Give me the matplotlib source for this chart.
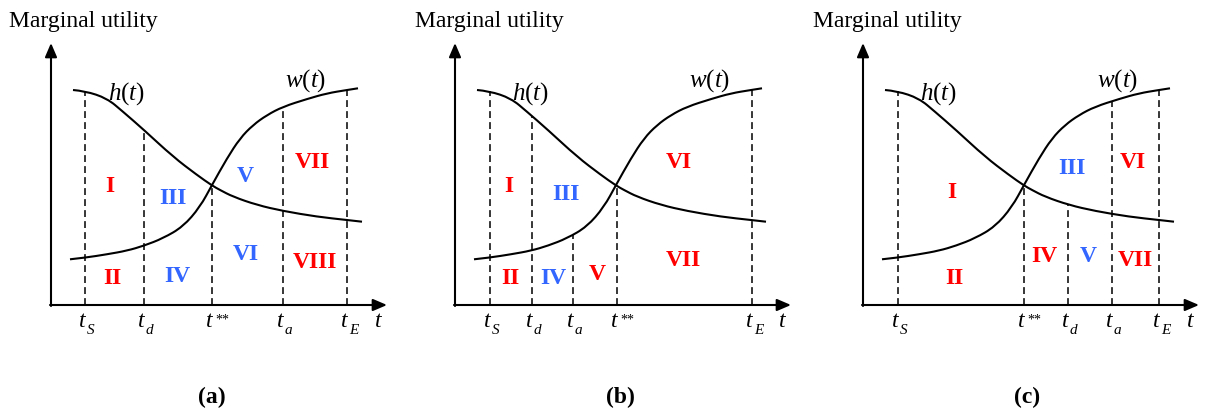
import numpy as np
import matplotlib
matplotlib.use("Agg")
import matplotlib.pyplot as plt
from matplotlib.path import Path
from matplotlib.patches import PathPatch

plt.rcParams['font.family'] = ['Liberation Serif', 'DejaVu Serif']
plt.rcParams['mathtext.fontset'] = 'custom'
plt.rcParams['mathtext.rm'] = 'Liberation Serif'
plt.rcParams['mathtext.it'] = 'Liberation Serif:italic'
plt.rcParams['mathtext.bf'] = 'Liberation Serif:bold'

RED = '#ff0000'
BLUE = '#3366ff'

# marginal utility curves, shared by all three panels (t, utility)
h_t = [22, 34, 56, 72, 93, 122, 146, 161, 169, 182, 206, 232, 266, 296, 311]
h_u = [215, 214, 206.7, 193.3, 175, 148.3, 130, 119.5, 115, 108.3, 100, 94, 88.3, 85, 83.3]
w_t = [19, 34, 56, 76, 93, 112, 132, 149, 161, 176, 189, 202, 216, 232, 256, 276, 296, 307]
w_u = [45.7, 47.3, 50.7, 54.3, 59.3, 66.7, 78.3, 98, 120, 146.7, 166.7, 180, 190, 198.3, 206, 211.7, 215, 216.7]

# time marks per panel: subscript / superscript, position, curve the dashed line rises to
marks_a = [('S', 34, 'h'), ('d', 93, 'h'), ('**', 161, 'x'), ('a', 232, 'w'), ('E', 296, 'w')]
marks_b = [('S', 35, 'h'), ('d', 77, 'h'), ('a', 118, 'w'), ('**', 162, 'x'), ('E', 297, 'w')]
marks_c = [('S', 35, 'h'), ('**', 161, 'x'), ('d', 205, 'h'), ('a', 249, 'w'), ('E', 296, 'w')]

# region labels: numeral, t, utility, colour
regions_a = [('I', 59, 119, RED), ('II', 61, 27, RED), ('III', 122, 107, BLUE), ('IV', 126, 29, BLUE),
             ('V', 194, 129, BLUE), ('VI', 195, 50, BLUE), ('VII', 261, 142, RED), ('VIII', 264, 43, RED)]
regions_b = [('I', 54, 119, RED), ('II', 55, 27, RED), ('III', 111, 110, BLUE), ('IV', 98, 27, BLUE),
             ('V', 142, 30, RED), ('VI', 224, 142, RED), ('VII', 228, 44, RED)]
regions_c = [('I', 89, 112, RED), ('II', 91, 27, RED), ('III', 209, 137, BLUE), ('IV', 181, 49, RED),
             ('V', 225, 49, BLUE), ('VI', 270, 142, RED), ('VII', 272, 44, RED)]

panels = [
    dict(origin=51, ylab_x=-42, tag='(a)', tag_x=161, marks=marks_a, regions=regions_a),
    dict(origin=455, ylab_x=-40, tag='(b)', tag_x=165, marks=marks_b, regions=regions_b),
    dict(origin=863, ylab_x=-50, tag='(c)', tag_x=164, marks=marks_c, regions=regions_c),
]


def smooth_path(xs, ys):
    # quadratic bezier through segment midpoints, points act as control points
    pts = np.column_stack([xs, ys]).astype(float)
    verts = [pts[0]]
    codes = [Path.MOVETO]
    for i in range(1, len(pts) - 1):
        end = pts[i + 1] if i == len(pts) - 2 else (pts[i] + pts[i + 1]) / 2
        verts += [pts[i], end]
        codes += [Path.CURVE3, Path.CURVE3]
    return Path(verts, codes)


W, H = 1205, 419
fig = plt.figure(figsize=(W / 100, H / 100), dpi=100)
fig.patch.set_facecolor('white')

XMIN, XMAX = -51, 342
YMIN, YMAX = -114, 305
BASE = -22  # baseline of the time labels

for p in panels:
    left = p['origin'] + XMIN
    ax = fig.add_axes([left / W, 0, (XMAX - XMIN) / W, 1])
    ax.set_xlim(XMIN, XMAX)
    ax.set_ylim(YMIN, YMAX)
    ax.axis('off')

    # axes with arrow heads
    arrow = dict(arrowstyle='-|>,head_length=0.7,head_width=0.3', color='k', lw=1.5,
                 mutation_scale=12, shrinkA=0, shrinkB=0)
    ax.annotate('', xy=(336, 0), xytext=(-1, 0), arrowprops=arrow)
    ax.annotate('', xy=(0, 262), xytext=(0, -1), arrowprops=arrow)

    for xs, ys in [(h_t, h_u), (w_t, w_u)]:
        ax.add_patch(PathPatch(smooth_path(xs, ys), fill=False, edgecolor='k', lw=1.5))

    for sub, t, which in p['marks']:
        if which == 'h':
            top = np.interp(t, h_t, h_u)
        elif which == 'w':
            top = np.interp(t, w_t, w_u)
        else:
            top = min(np.interp(t, h_t, h_u), np.interp(t, w_t, w_u))
        ax.plot([t, t], [0, top], color='k', lw=1.1, ls=(0, (4.5, 2.7)))
        ax.text(t - 6, BASE, 't', fontsize=17, style='italic', ha='left', va='baseline')
        if sub == '**':
            ax.text(t + 3, BASE + 3.5, '**', fontsize=10, ha='left', va='baseline')
        else:
            ax.text(t + 2, BASE - 7, sub, fontsize=11, style='italic', ha='left', va='baseline')

    ax.text(324, BASE, 't', fontsize=17, style='italic', ha='left', va='baseline')
    ax.text(76, 205, '$h(t)$', fontsize=18, ha='center', va='baseline')
    ax.text(255, 218, '$w(t)$', fontsize=18, ha='center', va='baseline')

    for num, t, u, col in p['regions']:
        ax.text(t, u, num, fontsize=17, fontweight='bold', color=col, ha='center', va='center')

    ax.text(p['ylab_x'], 278, 'Marginal utility', fontsize=17, ha='left', va='baseline')
    ax.text(p['tag_x'], -98, p['tag'], fontsize=17, fontweight='bold', ha='center', va='baseline')

fig.savefig('out.png', dpi=100, facecolor='white')
